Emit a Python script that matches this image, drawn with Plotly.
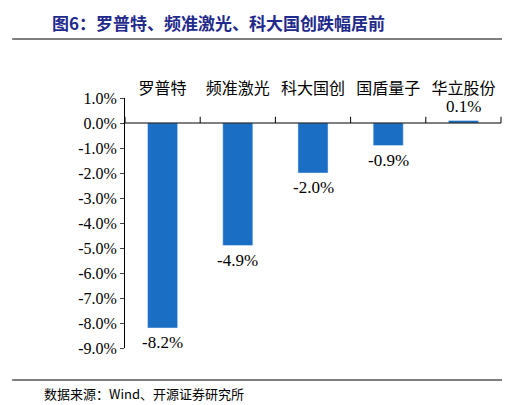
import plotly.graph_objects as go

categories = ['罗普特', '频准激光', '科大国创', '国盾量子', '华立股份']
values = [-8.2, -4.9, -2.0, -0.9, 0.1]
labels = ['-8.2%', '-4.9%', '-2.0%', '-0.9%', '0.1%']
yticks = [1, 0, -1, -2, -3, -4, -5, -6, -7, -8, -9]

serif = 'Liberation Serif, Noto Sans CJK SC'

fig = go.Figure()
fig.add_trace(go.Bar(x=categories, y=values, marker_color='#1a6fc4', width=0.4))

# value labels as annotations so they keep their size
value_notes = [dict(x=c, y=v, text=t, xref='x', yref='y', showarrow=False,
                    yanchor='bottom' if v > 0 else 'top', yshift=3 if v > 0 else -3,
                    font=dict(family=serif, size=17, color='black'))
               for c, v, t in zip(categories, values, labels)]

fig.update_layout(
    width=510, height=405,
    margin=dict(l=117, r=17, t=90, b=65),
    paper_bgcolor='white', plot_bgcolor='white',
    showlegend=False,
    font=dict(family=serif, color='black'),
    xaxis=dict(side='top', showline=False, ticks='', tickfont=dict(size=16, family='Noto Sans CJK SC')),
    yaxis=dict(range=[-9, 1], tickvals=yticks, ticktext=[f'{v:.1f}%' for v in yticks],
               showgrid=False, zeroline=False, showline=True, linecolor='black',
               ticks='outside', ticklen=4, tickfont=dict(size=16)),
    shapes=[
        dict(type='line', xref='paper', yref='paper', x0=-0.3, x1=1.03, y0=1.236, y1=1.236,
             line=dict(color='black', width=1)),
        dict(type='line', xref='paper', yref='y', x0=0, x1=1, y0=0, y1=0,
             line=dict(color='black', width=1)),
        dict(type='line', xref='paper', yref='paper', x0=-0.3, x1=1.03, y0=-0.128, y1=-0.128,
             line=dict(color='black', width=1)),
    ] + [dict(type='line', xref='paper', yref='y', x0=i / 5, x1=i / 5, y0=0, y1=0.25,
              line=dict(color='black', width=1)) for i in range(6)],
    annotations=value_notes + [
        dict(text='<b>图6：罗普特、频准激光、科大国创跌幅居前</b>', xref='paper', yref='paper',
             x=-0.2, y=1.3, xanchor='left', yanchor='middle', showarrow=False,
             font=dict(family='Noto Sans CJK SC', size=17, color='#1f2a8c')),
        dict(text='数据来源：Wind、开源证券研究所', xref='paper', yref='paper',
             x=-0.22, y=-0.18, xanchor='left', yanchor='middle', showarrow=False,
             font=dict(family='Noto Sans CJK SC', size=13, color='black')),
    ],
)

fig.write_html('out.html')
